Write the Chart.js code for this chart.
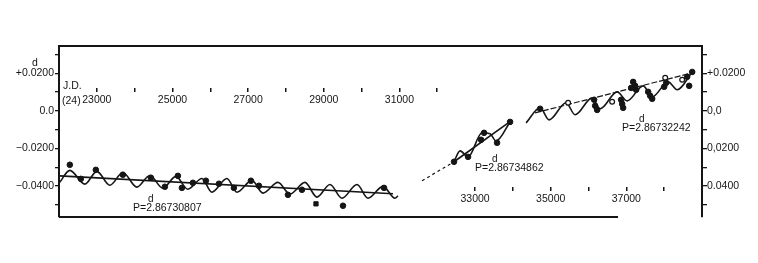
<!DOCTYPE html>
<html>
<head>
<meta charset="utf-8">
<script src="https://cdn.jsdelivr.net/npm/chart.js@4.4.1/dist/chart.umd.min.js"></script>
<style>
  html, body { margin: 0; padding: 0; background: #fff; }
</style>
</head>
<body>
<canvas id="chart" width="758" height="263"></canvas>
<script>
// O-C residuals (days) against J.D. - 2400000
// segment 1: P = 2.86730807
const obs1X = [22286, 22577, 22974, 23688, 24429, 24799, 25143, 25249, 25540, 25884, 26228, 26624, 27074, 27286, 28053, 28423, 29508, 30593];
const obs1Y = [-0.0287, -0.0362, -0.0314, -0.0340, -0.0356, -0.0404, -0.0346, -0.0410, -0.0383, -0.0372, -0.0388, -0.0410, -0.0372, -0.0399, -0.0447, -0.0420, -0.0505, -0.0410];
const sq1X = [28794];
const sq1Y = [-0.0495];
const fit1X = [22021, 22286, 22683, 23000, 23344, 23688, 24058, 24402, 24746, 25090, 25407, 25778, 26042, 26439, 26704, 27101, 27392, 27788, 28106, 28503, 28820, 29164, 29482, 29878, 30169, 30566, 30883, 30963];
const fit1Y = [-0.0380, -0.0317, -0.0390, -0.0322, -0.0396, -0.0328, -0.0406, -0.0344, -0.0412, -0.0349, -0.0417, -0.0360, -0.0433, -0.0360, -0.0433, -0.0370, -0.0438, -0.0381, -0.0443, -0.0381, -0.0459, -0.0392, -0.0465, -0.0392, -0.0465, -0.0402, -0.0465, -0.0452];
const trend1X = [22021, 30831];
const trend1Y = [-0.0346, -0.0441];

// segment 2: P = 2.86734862
const obs2X = [32444, 32815, 33159, 33238, 33582, 33926];
const obs2Y = [-0.0271, -0.0245, -0.0154, -0.0117, -0.0170, -0.0059];
const fit2X = [32444, 32603, 32815, 33185, 33397, 33556, 33926];
const fit2Y = [-0.0271, -0.0213, -0.0245, -0.0117, -0.0122, -0.0160, -0.0059];
const trend2X = [32444, 33952];
const trend2Y = [-0.0271, -0.0053];
const ext2X = [31598, 32444];
const ext2Y = [-0.0372, -0.0271];

// segment 3: P = 2.86732242
const obs3X = [34720, 36148, 36175, 36228, 36862, 36889, 36915, 37127, 37180, 37233, 37259, 37577, 37630, 37683, 38000, 38053, 38608, 38661, 38741];
const obs3Y = [0.0011, 0.0059, 0.0027, 0.0005, 0.0059, 0.0037, 0.0016, 0.0122, 0.0154, 0.0133, 0.0112, 0.0101, 0.0080, 0.0064, 0.0128, 0.0149, 0.0181, 0.0133, 0.0207];
const open3X = [35460, 36624, 38027, 38476];
const open3Y = [0.0043, 0.0048, 0.0176, 0.0165];
const fit3X = [34349, 34720, 34958, 35407, 35645, 36095, 36307, 36757, 37021, 37444, 37683, 38106, 38344, 38741];
const fit3Y = [-0.0064, 0.0016, -0.0048, 0.0043, -0.0021, 0.0069, 0.0011, 0.0101, 0.0053, 0.0133, 0.0074, 0.0154, 0.0112, 0.0207];
const trend3X = [34587, 38741];
const trend3Y = [-0.0011, 0.0202];

// axes
const topTicks = [23000, 24000, 25000, 26000, 27000, 28000, 29000, 30000, 31000, 32000];
const topLabels = ["23000", "", "25000", "", "27000", "", "29000", "", "31000", ""];
const lowTicks = [33000, 34000, 35000, 36000, 37000, 38000];
const lowLabels = ["33000", "", "35000", "", "37000", ""];
const yTicks = [-0.05, -0.04, -0.03, -0.02, -0.01, 0, 0.01, 0.02, 0.03];
const yLabels = ["", "\u22120.0400", "", "\u22120.0200", "", "0.0", "", "+0.0200", ""];
const y2Labels = ["", "0.0400", "", "0,0200", "", "0,0", "", "+0.0200", ""];

const INK = "#151515";
const FONT = "Liberation Sans, Arial, sans-serif";

function pts(xs, ys) {
  return xs.map((x, i) => ({ x: x, y: ys[i] }));
}

function lineSet(xs, ys, extra) {
  return Object.assign({
    data: pts(xs, ys),
    showLine: true,
    borderColor: INK,
    borderWidth: 1.6,
    pointRadius: 0,
    fill: false,
  }, extra || {});
}

function dotSet(xs, ys, extra) {
  return Object.assign({
    data: pts(xs, ys),
    showLine: false,
    pointRadius: 2.8,
    pointBackgroundColor: INK,
    pointBorderColor: INK,
    pointBorderWidth: 1,
  }, extra || {});
}

const textPlugin = {
  id: "annot",
  afterDraw(chart) {
    const { ctx, chartArea, scales } = chart;
    ctx.save();
    ctx.strokeStyle = INK;
    ctx.lineWidth = 2;
    ctx.beginPath();
    ctx.moveTo(chartArea.left, chartArea.top);
    ctx.lineTo(chartArea.right, chartArea.top);
    ctx.moveTo(chartArea.left, chartArea.bottom);
    ctx.lineTo(scales.x.getPixelForValue(36780), chartArea.bottom);
    ctx.stroke();

    ctx.fillStyle = INK;
    ctx.textBaseline = "middle";
    ctx.textAlign = "left";
    ctx.font = "10.5px " + FONT;
    ctx.fillText("d", 32, 63);
    ctx.fillText("J.D.", 63, 86);
    ctx.fillText("(24)", 62, 101);

    ctx.font = "10.5px " + FONT;
    ctx.fillText("P=2.86730807", 133, 208);
    ctx.fillText("P=2.86734862", 475, 168);
    ctx.fillText("P=2.86732242", 622, 128);
    ctx.font = "10px " + FONT;
    ctx.fillText("d", 148, 199);
    ctx.fillText("d", 492, 159);
    ctx.fillText("d", 639, 119);
    ctx.restore();
  }
};

const tickFont = { family: FONT, size: 10.5 };

new Chart(document.getElementById("chart"), {
  type: "scatter",
  data: {
    datasets: [
      dotSet(obs1X, obs1Y),
      dotSet(sq1X, sq1Y, { pointStyle: "rect", pointRadius: 3 }),
      dotSet(obs2X, obs2Y),
      dotSet(obs3X, obs3Y),
      dotSet(open3X, open3Y, { pointBackgroundColor: "#fff", pointRadius: 2.4, pointBorderWidth: 1.2 }),
      lineSet(fit1X, fit1Y, { cubicInterpolationMode: "monotone" }),
      lineSet(trend1X, trend1Y),
      lineSet(fit2X, fit2Y, { cubicInterpolationMode: "monotone" }),
      lineSet(trend2X, trend2Y),
      lineSet(ext2X, ext2Y, { borderDash: [3, 3], borderWidth: 1.2 }),
      lineSet(fit3X, fit3Y, { cubicInterpolationMode: "monotone" }),
      lineSet(trend3X, trend3Y, { borderDash: [6, 2], borderWidth: 1.2 }),
    ],
  },
  options: {
    responsive: false,
    animation: false,
    layout: { padding: { left: 0, right: 0, top: 46, bottom: 46 } },
    plugins: { legend: { display: false }, tooltip: { enabled: false } },
    scales: {
      x: {
        type: "linear",
        min: 22000,
        max: 39000,
        position: { y: 0.01215 },
        border: { display: false },
        grid: { drawOnChartArea: false, tickLength: 4, color: INK, lineWidth: 1.5 },
        ticks: {
          padding: 2, maxRotation: 0, autoSkip: false, color: INK, font: tickFont,
          callback: (v, i) => topLabels[i],
        },
        afterBuildTicks: (s) => { s.ticks = topTicks.map((v) => ({ value: v })); },
      },
      x2: {
        type: "linear",
        axis: "x",
        min: 22000,
        max: 39000,
        position: { y: -0.04054 },
        border: { display: false },
        grid: { drawOnChartArea: false, tickLength: 4, color: INK, lineWidth: 1.5 },
        ticks: {
          padding: 2, maxRotation: 0, autoSkip: false, color: INK, font: tickFont,
          callback: (v, i) => lowLabels[i],
        },
        afterBuildTicks: (s) => { s.ticks = lowTicks.map((v) => ({ value: v })); },
      },
      y: {
        type: "linear",
        position: "left",
        min: -0.0565,
        max: 0.0345,
        border: { display: true, color: INK, width: 2 },
        grid: { drawOnChartArea: false, tickLength: 4, color: INK, lineWidth: 1.3 },
        ticks: {
          padding: 1, color: INK, font: tickFont,
          callback: (v, i) => yLabels[i],
        },
        afterBuildTicks: (s) => { s.ticks = yTicks.map((v) => ({ value: v })); },
        afterFit: (s) => { s.width = 59; },
      },
      y2: {
        type: "linear",
        axis: "y",
        position: "right",
        min: -0.0565,
        max: 0.0345,
        border: { display: true, color: INK, width: 2 },
        grid: { drawOnChartArea: false, tickLength: 5, color: INK, lineWidth: 1.3 },
        ticks: {
          padding: 0, color: INK, font: tickFont,
          callback: (v, i) => y2Labels[i],
        },
        afterBuildTicks: (s) => { s.ticks = yTicks.map((v) => ({ value: v })); },
        afterFit: (s) => { s.width = 56; },
      },
    },
  },
  plugins: [textPlugin],
});
</script>
</body>
</html>
